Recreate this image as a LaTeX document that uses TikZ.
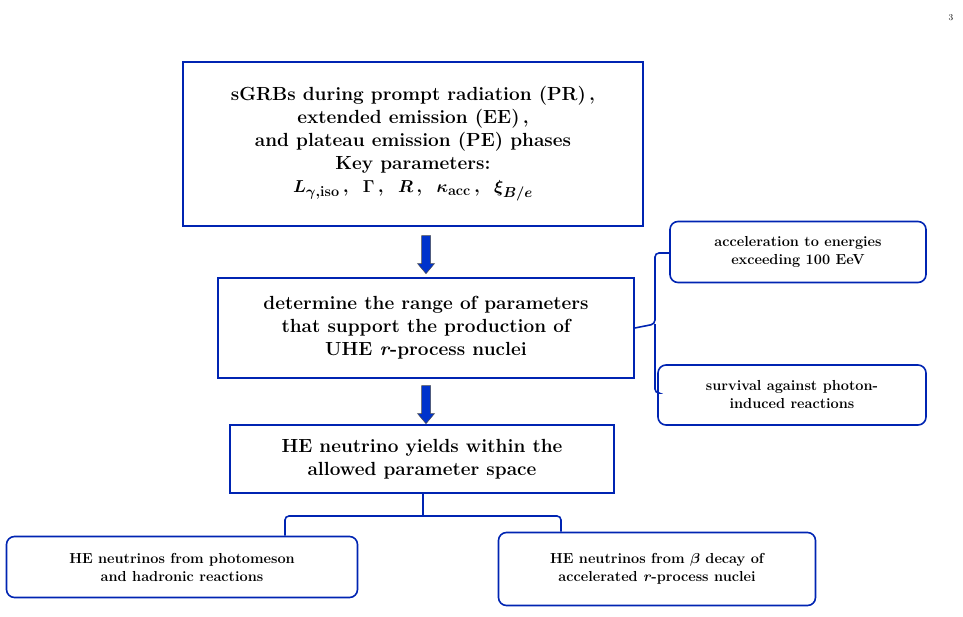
\documentclass[tikz,border=0pt]{standalone}
\usepackage{amsmath,amssymb,bm}
\usetikzlibrary{shapes.arrows}
\begin{document}
\begin{tikzpicture}[x=1pt,y=-1pt,
  box/.style={draw=blue!80!cyan!70!black, line width=1.6pt, align=center, font=\bfseries\fontsize{19}{23}\selectfont, inner sep=0pt},
  rbox/.style={box, rounded corners=8pt, font=\bfseries\fontsize{14.5}{18}\selectfont},
  br/.style={draw=blue!80!cyan!70!black, line width=1.6pt, rounded corners=4pt},
  barrow/.style={single arrow, shape border rotate=270, fill=blue!75!cyan!80!black, draw=black!70, line width=0.5pt, minimum width=17pt, single arrow head extend=2pt, single arrow tip angle=80, minimum height=38pt, inner sep=2pt}]
\useasboundingbox (0,0) rectangle (963,616);
\node at (951,18) {\small 3};
\node[box, minimum width=460pt, minimum height=164pt] (top) at (413,144) {sGRBs during prompt radiation (PR)\,,\\ extended emission (EE)\,,\\ and plateau emission (PE) phases\\ Key parameters:\\ $\bm{L_{\gamma,\mathrm{iso}}}$\,,\ \ $\bm{\Gamma}$\,,\ \ $\bm{R}$\,,\ \ $\bm{\kappa_{\mathrm{acc}}}$\,,\ \ $\bm{\xi_{B/e}}$};
\node[box, minimum width=416pt, minimum height=100pt] (mid) at (426,328) {determine the range of parameters\\ that support the production of\\ UHE \textit{r}-process nuclei};
\node[box, minimum width=384pt, minimum height=68pt] (he) at (422,459) {HE neutrino yields within the\\ allowed parameter space};
\node[rbox, minimum width=256pt, minimum height=61pt] (acc) at (798,252) {acceleration to energies\\ exceeding 100 EeV};
\node[rbox, minimum width=268pt, minimum height=60pt] (sur) at (792,395) {survival against photon-\\ induced reactions};
\node[rbox, minimum width=351pt, minimum height=61pt] (bl) at (182,567) {HE neutrinos from photomeson\\ and hadronic reactions};
\node[rbox, minimum width=317pt, minimum height=73pt] (brt) at (657,569) {HE neutrinos from $\bm{\beta}$ decay of\\ accelerated \textit{r}-process nuclei};
\node[barrow] (a1) at (426,252) {};
\node[barrow] (a2) at (426,402) {};
\coordinate (rb) at (655,324);
\draw[br] (mid.east) -- (rb) -- (655,253) -- (acc.west |- 0,253);
\draw[br] (rb) -- (655,393) -- (sur.west |- 0,393);
\coordinate (bb) at (423,516);
\draw[br] (he.south -| bb) -- (bb);
\draw[br] (bl.north -| 285,0) -- (285,516) -- (561,516) -- (brt.north -| 561,0);
\end{tikzpicture}
\end{document}
